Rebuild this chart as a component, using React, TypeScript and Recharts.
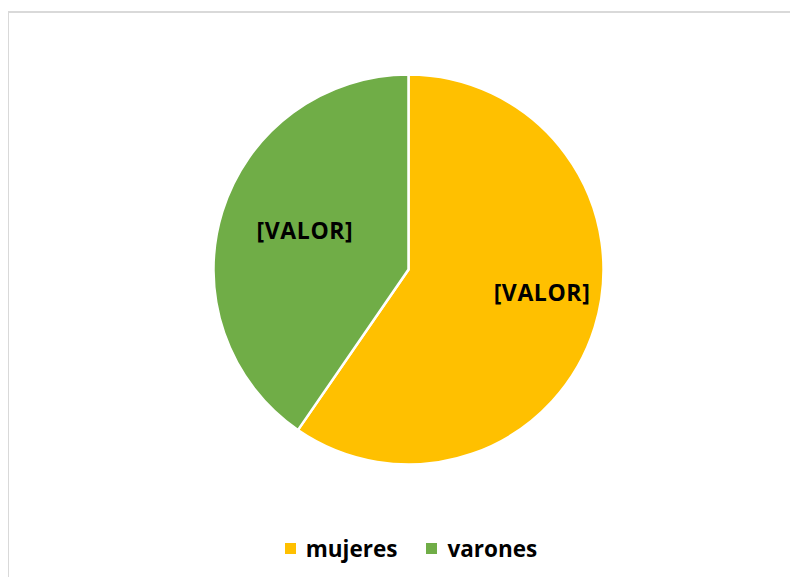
import React from "react";
import { PieChart, Pie, Cell, Legend } from "recharts";

const categories = ["mujeres", "varones"];
const values = [59.6, 40.4];
const labels = ["[VALOR]", "[VALOR]"];
const colors = ["#FFC000", "#70AD47"];
// label placement style (fraction of radius, angle tweak in degrees)
const labelRadiusFactor = [0.694, 0.569];
const labelAngleShift = [7.9, -3.8];

const data = categories.map((name, i) => ({ name, value: values[i], label: labels[i] }));

const FONT = "'Open Sans', 'Noto Sans', sans-serif";
const RAD = Math.PI / 180;

const renderLabel = (props: any) => {
  const { cx, cy, midAngle, outerRadius, index } = props;
  const r = outerRadius * labelRadiusFactor[index];
  const a = midAngle + labelAngleShift[index];
  const x = cx + r * Math.cos(-a * RAD);
  const y = cy + r * Math.sin(-a * RAD);
  return (
    <text
      x={x}
      y={y}
      textAnchor="middle"
      dominantBaseline="central"
      fontFamily={FONT}
      fontWeight={700}
      fontSize={23}
      letterSpacing={0.6}
      fill="#000"
    >
      {labels[index]}
    </text>
  );
};

const renderLegend = () => (
  <div
    style={{
      display: "flex",
      justifyContent: "center",
      alignItems: "center",
      fontFamily: FONT,
      fontWeight: 700,
      fontSize: 22.5,
      color: "#000",
      paddingLeft: 24,
    }}
  >
    {categories.map((c, i) => (
      <div
        key={c}
        style={{ display: "flex", alignItems: "center", marginRight: i === 0 ? 29 : 0 }}
      >
        <span
          style={{
            display: "inline-block",
            width: 11,
            height: 11,
            background: colors[i],
            marginRight: 10,
          }}
        />
        <span>{c}</span>
      </div>
    ))}
  </div>
);

export default function App() {
  return (
    <div style={{ position: "relative", margin: -8, width: 798, height: 585, overflow: "hidden", background: "#fff" }}>
      <div
        style={{
          position: "absolute",
          left: 7,
          top: 11,
          width: 820,
          height: 620,
          border: "2px solid #d9d9d9",
          boxSizing: "border-box",
        }}
      />
      <div style={{ position: "absolute", left: 0, top: 0 }}>
        <PieChart width={798} height={585} margin={{ top: 0, right: 0, bottom: 0, left: 0 }}>
          <Pie
            data={data}
            dataKey="value"
            nameKey="name"
            cx={408.5}
            cy={269.5}
            outerRadius={195}
            startAngle={90}
            endAngle={-270}
            stroke="#fff"
            strokeWidth={2.5}
            isAnimationActive={false}
            label={renderLabel}
            labelLine={false}
          >
            {data.map((d, i) => (
              <Cell key={d.name} fill={colors[i]} />
            ))}
          </Pie>
          <Legend
            content={renderLegend}
            wrapperStyle={{ position: "absolute", top: 533, left: 0, width: 798 }}
          />
        </PieChart>
      </div>
    </div>
  );
}
